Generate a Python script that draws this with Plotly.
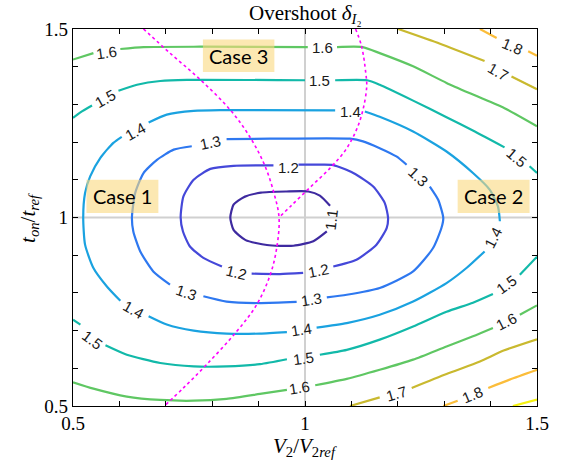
import plotly.graph_objects as go

# ---------------- data ----------------
levels = [1.1, 1.2, 1.3, 1.4, 1.5, 1.6, 1.7, 1.8, 1.9]
level_colors = ["#3E2AA0", "#4548D9", "#2E78F0", "#1AA2E0", "#12B9A9",
                "#5FC763", "#C9B92F", "#FBBD3A", "#F5F10F"]

# contour lines (None = gap where a label sits / separate branch)
c11_x = [1.054, 1.032, 1.007, 0.960, 0.905, 0.868, 0.846, 0.839, 0.846, 0.872, 0.918, 0.975, 1.018, 1.047]
c11_y = [1.031, 1.058, 1.069, 1.069, 1.066, 1.054, 1.034, 1.000, 0.967, 0.940, 0.927, 0.925, 0.937, 0.963]

c12_x = [0.986, 1.030, 1.061, 1.104, 1.147, 1.172, 1.179, 1.176, 1.154, 1.111, 1.061, None,
         0.996, 0.946, 0.885, None,
         0.821, 0.781, 0.752, 0.737, 0.732, 0.738, 0.760, 0.796, 0.846, 0.932]
c12_y = [1.140, 1.140, 1.139, 1.118, 1.082, 1.038, 0.999, 0.972, 0.928, 0.888, 0.870, None,
         0.853, 0.850, 0.851, None,
         0.870, 0.893, 0.923, 0.963, 1.000, 1.056, 1.100, 1.129, 1.137, 1.138]

c13_x = [0.831, 0.925, 1.097, 1.125, 1.161, 1.197, 1.219, None,
         1.269, 1.287, 1.298, 1.294, 1.276, 1.233, 1.161, 1.090, 1.047, None,
         0.982, 0.903, 0.831, 0.781, None,
         0.709, 0.673, 0.645, 0.630, 0.627, 0.634, 0.652, 0.681, 0.717, 0.756]
c13_y = [1.208, 1.209, 1.209, 1.202, 1.184, 1.162, 1.140, None,
         1.082, 1.047, 0.999, 0.972, 0.919, 0.857, 0.813, 0.795, 0.788, None,
         0.776, 0.773, 0.777, 0.791, None,
         0.822, 0.857, 0.910, 0.963, 1.000, 1.065, 1.118, 1.153, 1.180, 1.189]

c14_x = [0.663, 0.702, 0.760, 0.817, 1.065, None,
         1.129, 1.161, 1.233, 1.305, 1.362, 1.398, 1.416, 1.420, None,
         1.387, 1.348, 1.305, 1.233, 1.161, 1.090, 1.025, None,
         0.961, 0.903, 0.831, 0.760, 0.702, 0.663, None,
         0.602, 0.573, 0.544, 0.526, 0.522, 0.526, 0.537, 0.559, 0.587, 0.605]
c14_y = [1.252, 1.273, 1.283, 1.285, 1.284, None,
         1.281, 1.267, 1.228, 1.175, 1.118, 1.074, 1.029, 0.990, None,
         0.910, 0.866, 0.826, 0.777, 0.742, 0.720, 0.708, None,
         0.696, 0.692, 0.692, 0.700, 0.716, 0.738, None,
         0.779, 0.817, 0.866, 0.928, 1.000, 1.065, 1.109, 1.158, 1.198, 1.214]

c15_x = [0.500, 0.516, 0.541, None,
         0.598, 0.638, 0.688, 0.745, 1.000, None,
         1.065, 1.134, 1.161, 1.233, 1.305, 1.366, 1.430, None,
         1.484, 1.500, None,
         1.500, 1.463, None,
         1.405, 1.362, 1.305, 1.233, 1.161, 1.090, 1.032, None,
         0.961, 0.903, 0.831, 0.760, 0.688, 0.616, 0.570, None,
         0.516, 0.500]
c15_y = [1.264, 1.279, 1.297, None,
         1.336, 1.352, 1.362, 1.365, 1.364, None,
         1.364, 1.364, 1.352, 1.310, 1.266, 1.228, 1.186, None,
         1.136, 1.118, None,
         0.896, 0.848, None,
         0.797, 0.774, 0.750, 0.711, 0.676, 0.649, 0.636, None,
         0.624, 0.611, 0.605, 0.605, 0.614, 0.636, 0.661, None,
         0.716, 0.729]

c16_x = [0.500, 0.544, None,
         0.602, 0.652, 0.774, 1.006, None,
         1.069, 1.124, 1.161, 1.233, 1.305, 1.366, 1.430, 1.500, None,
         0.500, 0.544, 0.616, 0.688, 0.760, 0.831, 0.903, 0.961, None,
         1.022, 1.090, 1.161, 1.233, 1.305, 1.362, 1.405, None,
         1.463, 1.500]
c16_y = [1.419, 1.436, None,
         1.447, 1.452, 1.453, 1.452, None,
         1.452, 1.452, 1.436, 1.401, 1.357, 1.324, 1.290, 1.242, None,
         0.563, 0.546, 0.525, 0.516, 0.514, 0.519, 0.532, 0.543, None,
         0.555, 0.572, 0.596, 0.623, 0.658, 0.685, 0.707, None,
         0.742, 0.767]

c17_x = [1.201, 1.291, 1.387, None, 1.445, 1.500, None,
         1.097, 1.161, None, 1.230, 1.305, 1.377, 1.428, 1.500]
c17_y = [1.500, 1.461, 1.415, None, 1.374, 1.340, None,
         0.500, 0.523, None, 0.548, 0.585, 0.618, 0.647, 0.677]

c18_x = [1.377, 1.413, None, 1.481, 1.500, None,
         1.298, 1.329, None, 1.395, 1.441, 1.500]
c18_y = [1.500, 1.476, None, 1.441, 1.429, None,
         0.500, 0.514, None, 0.548, 0.570, 0.596]

c19_x = [1.448, 1.500]
c19_y = [0.500, 0.517]

contour_x = [c11_x, c12_x, c13_x, c14_x, c15_x, c16_x, c17_x, c18_x, c19_x]
contour_y = [c11_y, c12_y, c13_y, c14_y, c15_y, c16_y, c17_y, c18_y, c19_y]

# inline contour labels
label_text = ["1.1",
              "1.2", "1.2", "1.2",
              "1.3", "1.3", "1.3", "1.3",
              "1.4", "1.4", "1.4", "1.4", "1.4",
              "1.5", "1.5", "1.5", "1.5", "1.5", "1.5",
              "1.6", "1.6", "1.6", "1.6",
              "1.7", "1.7",
              "1.8", "1.8"]
label_x = [1.057,
           0.964, 1.029, 0.853,
           0.796, 1.244, 1.014, 0.745,
           0.634, 1.098, 1.405, 0.993, 0.630,
           0.570, 1.032, 1.456, 1.434, 0.996, 0.541,
           0.573, 1.037, 0.989, 1.434,
           1.416, 1.197,
           1.448, 1.362]
label_y = [0.994,
           1.133, 0.859, 0.855,
           1.198, 1.109, 0.782, 0.802,
           1.228, 1.281, 0.948, 0.702, 0.755,
           1.315, 1.363, 1.158, 0.822, 0.627, 0.676,
           1.439, 1.450, 0.549, 0.724,
           1.388, 0.534,
           1.454, 0.530]
label_angle = [-83,
               0, -11, 14,
               -12, 43, -9, 19,
               -29, 0, -63, -9, 29,
               -29, 0, 40, -36, -8, 37,
               -8, 0, -9, -27,
               30, -16,
               23, -23]

# magenta dotted boundaries
boundA_x = [0.652, 0.709, 0.774, 0.842, 0.885, 0.914, 0.933, 0.944, 0.939, 0.925, 0.896, 0.853, 0.788, 0.738, 0.697]
boundA_y = [1.500, 1.436, 1.366, 1.281, 1.206, 1.136, 1.065, 1.000, 0.919, 0.848, 0.769, 0.698, 0.610, 0.548, 0.500]
boundB_x = [1.109, 1.122, 1.131, 1.133, 1.125, 1.111, 1.088, 1.054, 1.011, 0.970, 0.944]
boundB_y = [1.500, 1.454, 1.383, 1.348, 1.286, 1.233, 1.180, 1.131, 1.080, 1.031, 1.000]

case_names = ["Case 1", "Case 2", "Case 3"]
case_x0 = [0.529, 1.329, 0.780]
case_x1 = [0.684, 1.484, 0.934]
case_y0 = [1.012, 1.012, 1.386]
case_y1 = [1.100, 1.100, 1.472]

major_ticks = [0.5, 1.0, 1.5]
major_text = ["0.5", "1", "1.5"]

# ---------------- figure ----------------
fig = go.Figure()

for lx, ly, col in zip(contour_x, contour_y, level_colors):
    fig.add_trace(go.Scatter(
        x=lx, y=ly, mode="lines", connectgaps=False,
        line=dict(color=col, width=2.2, shape="spline", smoothing=0.6),
        hoverinfo="skip", showlegend=False))

for bx, by in [(boundA_x, boundA_y), (boundB_x, boundB_y)]:
    fig.add_trace(go.Scatter(
        x=bx, y=by, mode="lines",
        line=dict(color="#FF00FF", width=1.6, dash="dot", shape="spline", smoothing=1.0),
        hoverinfo="skip", showlegend=False))

# cross-hair reference lines
fig.add_shape(type="line", xref="x", yref="y", x0=1, x1=1, y0=0.5, y1=1.5,
              line=dict(color="#D0D0D0", width=2), layer="below")
fig.add_shape(type="line", xref="x", yref="y", x0=0.5, x1=1.5, y0=1, y1=1,
              line=dict(color="#D0D0D0", width=2), layer="below")

# contour labels
for t, x, y, a in zip(label_text, label_x, label_y, label_angle):
    fig.add_annotation(x=x, y=y, xref="x", yref="y", text=t, showarrow=False,
                       textangle=a, xanchor="center", yanchor="middle",
                       font=dict(family="Liberation Sans, Arial", size=15, color="#1a1a1a"))

# case boxes
for name, x0, x1, y0, y1 in zip(case_names, case_x0, case_x1, case_y0, case_y1):
    fig.add_shape(type="rect", xref="x", yref="y", x0=x0, x1=x1, y0=y0, y1=y1,
                  line=dict(width=0), fillcolor="rgba(250,217,127,0.6)", layer="above")
    fig.add_annotation(x=(x0 + x1) / 2, y=(y0 + y1) / 2, xref="x", yref="y", text=name,
                       showarrow=False, xanchor="center", yanchor="middle",
                       font=dict(family="Lato, Noto Sans, sans-serif", size=20, color="black"))

axis_common = dict(
    range=[0.5, 1.5], showgrid=False, zeroline=False,
    showline=True, linecolor="black", linewidth=1.3, mirror="ticks",
    ticks="inside", ticklen=5, tickwidth=1, tickcolor="black",
    tickvals=major_ticks, ticktext=major_text,
    minor=dict(ticks="inside", ticklen=5, tickwidth=1, tickcolor="black",
               dtick=0.1, tick0=0.5, showgrid=False),
    tickfont=dict(family="Liberation Serif, Times New Roman, serif", size=19, color="black"),
)

fig.update_layout(
    width=564, height=468,
    margin=dict(l=73, r=27, t=29, b=62),
    paper_bgcolor="white", plot_bgcolor="white",
    xaxis=dict(**axis_common),
    yaxis=dict(**axis_common),
)

fig.add_annotation(x=0.5, y=1.0406, xref="paper", yref="paper",
                   text="Overshoot <i>δ</i><sub><i>I</i>₂</sub>",
                   showarrow=False, xanchor="center", yanchor="middle",
                   font=dict(family="Liberation Serif, Times New Roman, serif", size=21, color="black"))
fig.add_annotation(x=0.5, y=-0.108, xref="paper", yref="paper",
                   text="<i>V</i><sub>2</sub>/<i>V</i><sub>2<i>ref</i></sub>",
                   showarrow=False, xanchor="center", yanchor="middle",
                   font=dict(family="Liberation Serif, Times New Roman, serif", size=21, color="black"))
fig.add_annotation(x=-0.096, y=0.5, xref="paper", yref="paper",
                   text="<i>t</i><sub><i>on</i></sub>/<i>t</i><sub><i>ref</i></sub>",
                   showarrow=False, textangle=-90, xanchor="center", yanchor="middle",
                   font=dict(family="Liberation Serif, Times New Roman, serif", size=21, color="black"))

# remove the browser's default body margin so the figure sits at the page origin
fig.write_html("out.html",
               config={"displayModeBar": False},
               post_script="document.body.style.margin='0';document.body.style.padding='0';")
